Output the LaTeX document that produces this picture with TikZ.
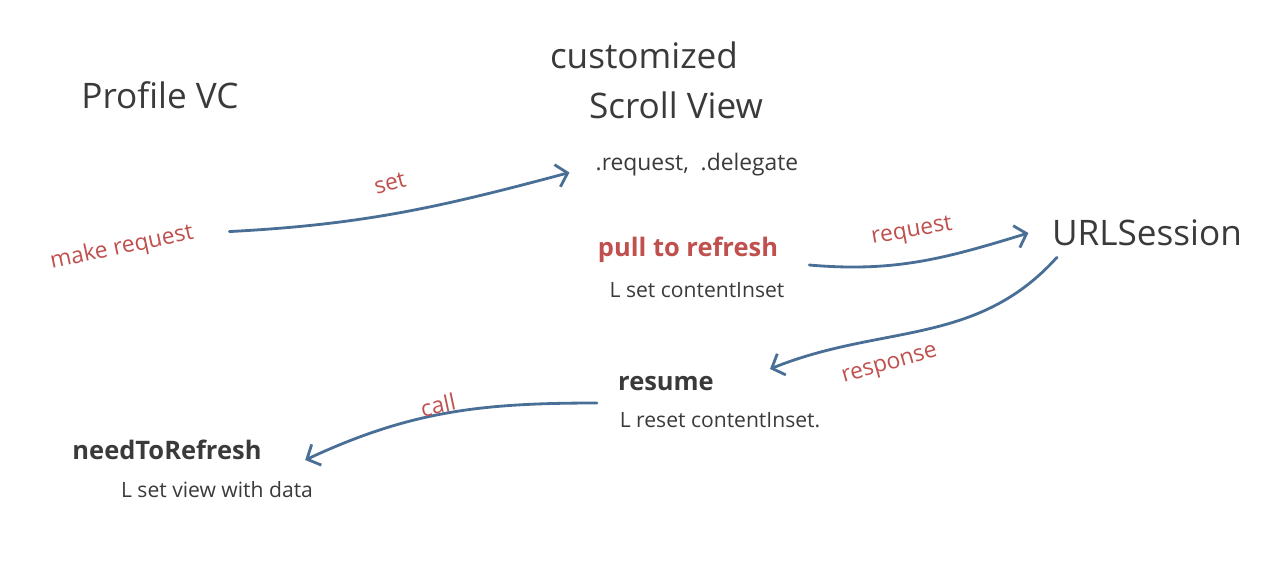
\documentclass[tikz,border=0pt]{standalone}
\usepackage{fontspec}
\setmainfont{Open Sans}
\usepackage{tikz}
\usetikzlibrary{arrows.meta}

\definecolor{inkgray}{RGB}{58,58,58}
\definecolor{inkred}{RGB}{192,80,77}
\definecolor{inkblue}{RGB}{74,111,150}

\tikzset{
	title/.style={text=inkgray, font=\fontsize{20}{23}\selectfont},
	state/.style={text=inkgray, font=\bfseries\fontsize{14.5}{17}\selectfont},
	sub/.style={text=inkgray, font=\fontsize{12}{14}\selectfont},
	verb/.style={text=inkred, font=\fontsize{13}{15}\selectfont},
	link/.style={draw=inkblue, line width=1.6pt, line cap=round,
		-{Straight Barb[length=6pt,width=13pt]}}
}

\begin{document}
\begin{tikzpicture}
		\useasboundingbox (0,0) rectangle (25.36,-11.22);

		\node[title] (profile) at (3.2,-1.9) {Profile VC};
		\node[title] (custom) at (12.88,-1.1) {customized};
		\node[title] (scroll) at (13.52,-2.1) {Scroll View};
		\node[sub,font=\fontsize{13}{15}\selectfont] (props) at (13.94,-3.3) {.request,\ \ .delegate};
		\node[title] (url) at (22.94,-4.66) {URLSession};

		\node[verb,rotate=12] (mkreq) at (2.44,-4.96) {make request};
		\node[state,text=inkred] (pull) at (13.76,-5.0) {pull to refresh};
		\node[sub] (setinset) at (13.94,-5.8) {L set contentInset};
		\node[state] (resume) at (13.32,-7.68) {resume};
		\node[sub] (reset) at (14.4,-8.4) {L reset contentInset.};
		\node[state] (need) at (3.34,-9.0) {needToRefresh};
		\node[sub] (viewdata) at (4.34,-9.8) {L set view with data};

		% arrows
		\draw[link] ([xshift=0.6cm]mkreq.east) to[out=3,in=195] ([xshift=-0.4cm,yshift=-0.15cm]props.west);
		\draw[link] ([xshift=0.5cm,yshift=-0.3cm]pull.east) to[out=-5,in=197] ([xshift=-0.35cm]url.west);
		\draw[link] ([xshift=-1.8cm,yshift=-0.1cm]url.south) to[out=228,in=22] ([xshift=1.0cm,yshift=0.3cm]resume.east);
		\draw[link] ([xshift=-0.3cm,yshift=-0.38cm]resume.west) to[out=180,in=25] ([xshift=0.75cm,yshift=-0.2cm]need.east);

		\node[verb,rotate=15] (setlbl) at (7.8,-3.66) {set};
		\node[verb,rotate=10] (reqlbl) at (18.24,-4.64) {request};
		\node[verb,rotate=16] (resplbl) at (17.8,-7.32) {response};
		\node[verb,rotate=12] (calllbl) at (8.76,-8.1) {call};

	\end{tikzpicture}
\end{document}
